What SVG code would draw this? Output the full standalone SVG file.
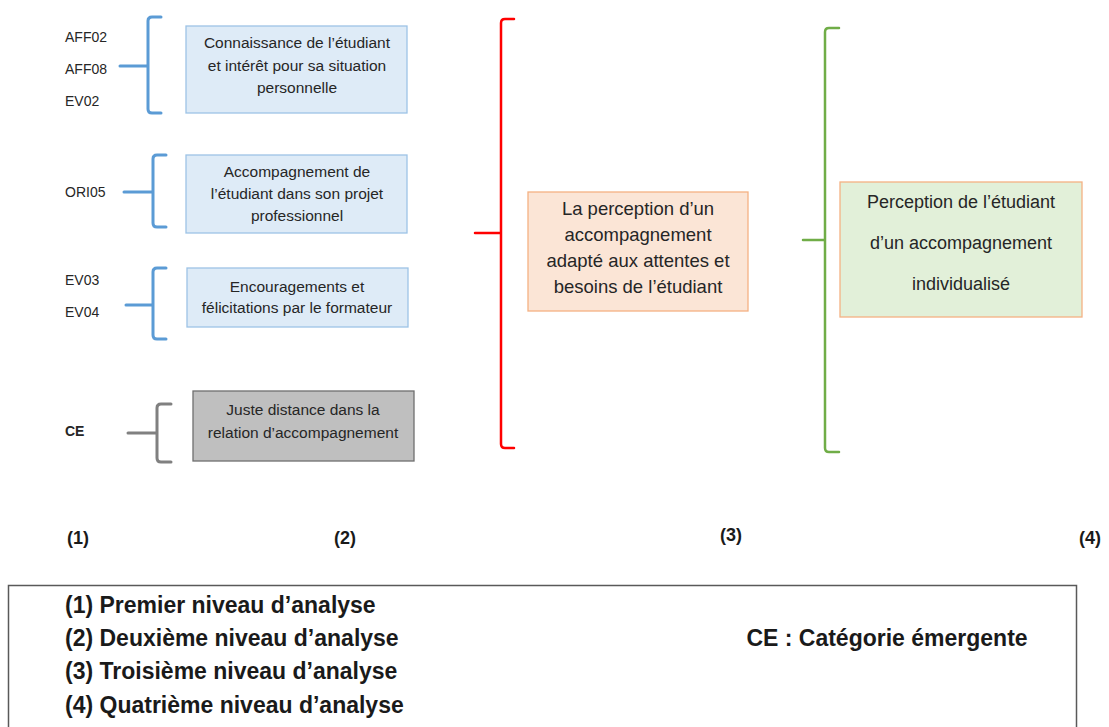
<svg xmlns="http://www.w3.org/2000/svg" width="1109" height="727" viewBox="0 0 1109 727">
<style>
text{font-family:"Liberation Sans",Arial,sans-serif;fill:#262626}
.code{font-size:14px}
.bt{font-size:15.5px;text-anchor:middle}
.ot{font-size:18.5px;text-anchor:middle}
.gt{font-size:18px;text-anchor:middle}
.lvl{font-size:18px;font-weight:bold;fill:#1a1a1a}
.leg{font-size:23px;font-weight:bold;fill:#1a1a1a}
.blue{fill:#deebf7;stroke:#9dc3e6;stroke-width:1.3}
.grey{fill:#bfbfbf;stroke:#6f6f6f;stroke-width:1.3}
.orange{fill:#fbe5d6;stroke:#f4b183;stroke-width:1.3}
.green{fill:#e2f0d9;stroke:#f4b183;stroke-width:1.3}
.br{fill:none;stroke-linecap:round;stroke-linejoin:round}
.bb{stroke:#5b9bd5;stroke-width:3}
.bg{stroke:#808080;stroke-width:3}
.brd{stroke:#ff0000;stroke-width:2.5}
.bgr{stroke:#70ad47;stroke-width:2.5}
</style>
<g id="connectors">
<path class="br bb" d="M161,17 H152 Q148,17 148,21 V109 Q148,113 152,113 H161 M120,66 H148"/>
<path class="br bb" d="M166,155 H157 Q153,155 153,159 V223 Q153,227 157,227 H166 M124,192 H153"/>
<path class="br bb" d="M166,268 H157 Q153,268 153,272 V335 Q153,339 157,339 H166 M126,305 H153"/>
<path class="br bg" d="M171,404 H161 Q157,404 157,408 V458 Q157,462 161,462 H171 M128,433 H157"/>
<path class="br brd" d="M514,19 H505 Q501,19 501,23 V444 Q501,448 505,448 H514 M475,233 H501"/>
<path class="br bgr" d="M839,28 H829 Q825,28 825,32 V448 Q825,452 829,452 H839 M803,240 H825"/>
</g>
<g id="codes1">
<text class="code" x="65" y="42">AFF02</text>
<text class="code" x="65" y="74">AFF08</text>
<text class="code" x="65" y="106">EV02</text>
</g>
<g id="codes2"><text class="code" x="65" y="197">ORI05</text></g>
<g id="codes3">
<text class="code" x="65" y="285">EV03</text>
<text class="code" x="65" y="317">EV04</text>
</g>
<g id="codes4"><text class="code" x="65" y="436" font-weight="bold">CE</text></g>
<g id="n1">
<rect class="blue" x="186" y="26" width="221" height="87"/>
<text class="bt" x="297" y="48">Connaissance de l’étudiant</text>
<text class="bt" x="297" y="71">et intérêt pour sa situation</text>
<text class="bt" x="297" y="93">personnelle</text>
</g>
<g id="n2">
<rect class="blue" x="186" y="155" width="221" height="78"/>
<text class="bt" x="297" y="177">Accompagnement de</text>
<text class="bt" x="297" y="199">l’étudiant dans son projet</text>
<text class="bt" x="297" y="221">professionnel</text>
</g>
<g id="n3">
<rect class="blue" x="187" y="268" width="221" height="59"/>
<text class="bt" x="297" y="292">Encouragements et</text>
<text class="bt" x="297" y="313">félicitations par le formateur</text>
</g>
<g id="n4">
<rect class="grey" x="193" y="391" width="221" height="70"/>
<text class="bt" x="303" y="415">Juste distance dans la</text>
<text class="bt" x="303" y="438">relation d’accompagnement</text>
</g>
<g id="n5">
<rect class="orange" x="528" y="192" width="220" height="119"/>
<text class="ot" x="638" y="215">La perception d’un</text>
<text class="ot" x="638" y="241">accompagnement</text>
<text class="ot" x="638" y="267">adapté aux attentes et</text>
<text class="ot" x="638" y="293">besoins de l’étudiant</text>
</g>
<g id="n6">
<rect class="green" x="840" y="182" width="242" height="135"/>
<text class="gt" x="961" y="208">Perception de l’étudiant</text>
<text class="gt" x="961" y="249">d’un accompagnement</text>
<text class="gt" x="961" y="290">individualisé</text>
</g>
<g id="levels">
<text class="lvl" x="67" y="544">(1)</text>
<text class="lvl" x="334" y="544">(2)</text>
<text class="lvl" x="720" y="541">(3)</text>
<text class="lvl" x="1079" y="544">(4)</text>
</g>
<g id="legend">
<rect x="8.5" y="585.5" width="1068" height="150" fill="#fff" stroke="#595959" stroke-width="1.5"/>
<text class="leg" x="65" y="613">(1) Premier niveau d’analyse</text>
<text class="leg" x="65" y="646">(2) Deuxième niveau d’analyse</text>
<text class="leg" x="65" y="679">(3) Troisième niveau d’analyse</text>
<text class="leg" x="65" y="713">(4) Quatrième niveau d’analyse</text>
<text class="leg" x="887" y="646" text-anchor="middle">CE : Catégorie émergente</text>
</g>
</svg>
